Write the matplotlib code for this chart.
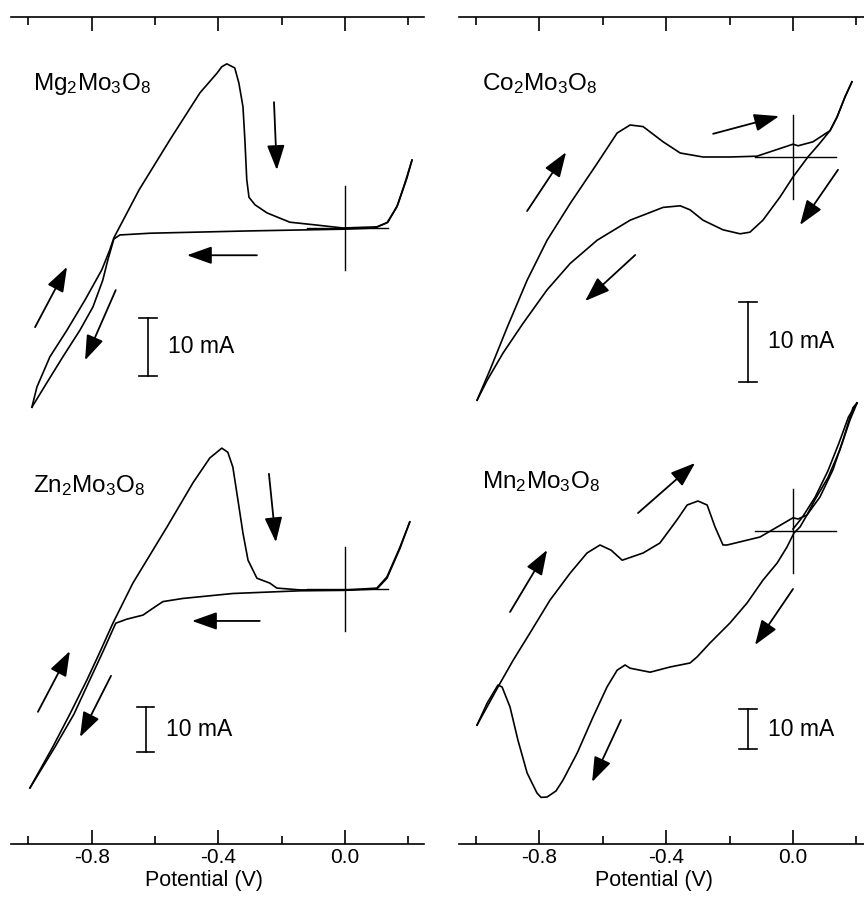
import matplotlib.pyplot as plt

plt.rcParams['font.family'] = ['Liberation Sans', 'DejaVu Sans']
plt.rcParams['mathtext.default'] = 'regular'

# ---- cyclic voltammograms, potential (V) and current (mA) ----
mg_fwd_v = [-0.989, -0.973, -0.932, -0.878, -0.821, -0.768, -0.743, -0.730, -0.650, -0.553,
            -0.458, -0.404, -0.389, -0.373, -0.348, -0.335, -0.322, -0.316, -0.310, -0.303,
            -0.284, -0.246, -0.174, -0.088, -0.006, 0.101, 0.133, 0.164, 0.190, 0.212]
mg_fwd_i = [-30.9, -27.4, -22.2, -17.6, -12.4, -7.2, -3.8, -1.7, 6.6, 15.2,
            23.3, 26.7, 27.8, 28.3, 27.6, 25.0, 20.9, 15.2, 8.3, 5.3,
            4.0, 2.6, 1.0, 0.5, 0.0, 0.2, 0.9, 3.6, 7.8, 11.7]
mg_rev_v = [0.212, 0.196, 0.167, 0.136, 0.095, 0.000, -0.300, -0.616, -0.711, -0.730,
            -0.749, -0.765, -0.796, -0.837, -0.891, -0.942, -0.989]
mg_rev_i = [11.7, 8.6, 4.0, 1.0, 0.0, -0.2, -0.5, -0.9, -1.2, -1.9,
            -5.5, -9.0, -13.6, -17.6, -22.2, -26.7, -30.9]

co_fwd_v = [-0.997, -0.956, -0.902, -0.839, -0.776, -0.703, -0.618, -0.555, -0.514, -0.473,
            -0.410, -0.356, -0.284, -0.199, -0.114, 0.000, 0.016, 0.063, 0.117, 0.139,
            0.164, 0.186]
co_fwd_i = [-30.4, -26.6, -21.3, -15.4, -10.4, -5.8, -0.8, 3.0, 4.0, 3.8,
            1.9, 0.5, 0.0, 0.0, 0.1, 1.6, 1.4, 1.9, 3.3, 5.0,
            7.5, 9.4]
co_rev_v = [0.186, 0.164, 0.139, 0.117, 0.082, 0.047, 0.000, -0.041, -0.095, -0.136,
            -0.167, -0.221, -0.284, -0.325, -0.356, -0.410, -0.514, -0.618, -0.703, -0.776,
            -0.852, -0.915, -0.965, -0.997]
co_rev_i = [9.4, 7.5, 5.0, 3.3, 1.6, 0.0, -2.5, -5.0, -7.9, -9.4,
            -9.6, -9.1, -7.9, -6.6, -6.1, -6.3, -7.9, -10.4, -13.3, -16.6,
            -20.8, -24.5, -27.9, -30.4]

zn_fwd_v = [-0.995, -0.923, -0.869, -0.815, -0.774, -0.733, -0.670, -0.562, -0.480, -0.427,
            -0.389, -0.370, -0.354, -0.338, -0.322, -0.306, -0.278, -0.237, -0.215, -0.142,
            0.006, 0.101, 0.133, 0.174, 0.205]
zn_fwd_i = [-44.2, -35.1, -27.8, -20.2, -14.0, -7.6, 1.3, 13.8, 23.6, 29.1,
            31.3, 30.4, 27.1, 19.8, 12.4, 6.4, 2.4, 1.3, 0.2, -0.2,
            -0.2, 0.2, 2.7, 9.3, 14.9]
zn_rev_v = [0.205, 0.174, 0.133, 0.101, 0.000, -0.142, -0.354, -0.512, -0.575, -0.607,
            -0.638, -0.689, -0.724, -0.765, -0.806, -0.856, -0.916, -0.995]
zn_rev_i = [14.9, 9.0, 2.4, 0.0, -0.3, -0.4, -1.0, -2.1, -2.8, -4.3,
            -5.8, -6.7, -7.6, -14.0, -20.2, -27.8, -35.1, -44.2]

mn_fwd_v = [-0.997, -0.924, -0.883, -0.830, -0.767, -0.703, -0.650, -0.609, -0.574, -0.539,
            -0.473, -0.420, -0.366, -0.334, -0.300, -0.271, -0.246, -0.221, -0.208, -0.104,
            0.000, 0.016, 0.044, 0.085, 0.126, 0.158, 0.189, 0.202]
mn_fwd_i = [-48.5, -38.0, -32.3, -25.5, -17.3, -10.5, -5.5, -3.5, -4.8, -7.3,
            -5.5, -3.0, 2.8, 6.5, 7.5, 6.5, 1.0, -3.5, -3.5, -1.5,
            3.3, 3.0, 4.0, 8.5, 15.3, 22.8, 30.8, 32.0]
mn_rev_v = [0.202, 0.180, 0.148, 0.110, 0.069, 0.044, 0.022, 0.003, -0.019, -0.050,
            -0.095, -0.145, -0.199, -0.262, -0.303, -0.325, -0.388, -0.451, -0.514, -0.530,
            -0.555, -0.587, -0.631, -0.681, -0.726, -0.748, -0.776, -0.795, -0.808, -0.839,
            -0.868, -0.893, -0.918, -0.931, -0.965, -0.997]
mn_rev_i = [32.0, 27.8, 20.3, 13.3, 7.8, 4.0, 1.0, -0.5, -4.0, -8.0,
            -12.3, -18.0, -23.0, -28.0, -31.5, -33.0, -34.0, -35.3, -34.3, -33.5,
            -34.8, -39.0, -46.5, -55.5, -62.3, -65.0, -66.5, -66.6, -65.5, -60.5,
            -52.3, -44.0, -39.0, -38.5, -43.0, -48.5]
# second oxidation branch seen in the bundle above 0 V
mn_fwd2_v = [0.000, 0.030, 0.070, 0.110, 0.145, 0.175, 0.202]
mn_fwd2_i = [0.5, 3.5, 8.5, 15.0, 22.0, 28.5, 32.0]

# sweep-direction arrows: (tail V, tail mA, head V, head mA)
mg_arrows = [(-0.224, 21.7, -0.215, 10.0), (-0.278, -4.7, -0.499, -4.7),
             (-0.979, -17.1, -0.878, -6.7), (-0.724, -10.7, -0.821, -22.8)]
co_arrows = [(-0.839, -6.75, -0.716, 0.6), (-0.252, 2.9, -0.044, 5.1),
             (0.142, -1.6, 0.022, -8.5), (-0.498, -12.25, -0.656, -18.0)]
zn_arrows = [(-0.240, 25.6, -0.218, 10.4), (-0.269, -7.1, -0.483, -7.1),
             (-0.970, -27.3, -0.869, -13.8), (-0.739, -19.3, -0.837, -32.9)]
mn_arrows = [(-0.489, 4.5, -0.309, 17.0), (-0.893, -20.25, -0.776, -4.75),
             (0.000, -14.5, -0.120, -28.5), (-0.543, -47.25, -0.634, -62.75)]

# 10 mA scale bars: (V, lower end in mA)
mg_bar = (-0.622, -25.5)
co_bar = (-0.142, -28.1)
zn_bar = (-0.629, -36.2)
mn_bar = (-0.142, -54.5)

labels = [r'Mg$_2$Mo$_3$O$_8$', r'Co$_2$Mo$_3$O$_8$', r'Zn$_2$Mo$_3$O$_8$', r'Mn$_2$Mo$_3$O$_8$']
label_pos = [(-0.986, 23.8), (-0.981, 8.4), (-0.986, 21.6), (-0.981, 10.75)]

major_ticks = [-0.8, -0.4, 0.0]
major_labels = ['-0.8', '-0.4', '0.0']
minor_ticks = [-1.0, -0.6, -0.2, 0.2]

# ---- layout (pixels of the 864x907 canvas) ----
W, H = 864, 907
TOP, MID, BOT = 17, 430, 844
cols = [(11, 424, (-1.055, 0.250)), (459, 864, (-1.054, 0.224))]
label_x = [0.467, 0.481]

fig = plt.figure(figsize=(W / 100, H / 100), dpi=100)

for (x0, x1, xlim), lx in zip(cols, label_x):
    ax = fig.add_axes([x0 / W, 1 - BOT / H, (x1 - x0) / W, (BOT - TOP) / H])
    ax.set_xlim(*xlim)
    ax.set_ylim(0, 1)
    ax.set_yticks([])
    for s in ('left', 'right'):
        ax.spines[s].set_visible(False)
    for s in ('top', 'bottom'):
        ax.spines[s].set_linewidth(1.2)
    ax.set_xticks(major_ticks)
    ax.set_xticklabels(major_labels, fontsize=15)
    ax.set_xticks(minor_ticks, minor=True)
    ax.tick_params(axis='x', which='both', direction='in', top=True, bottom=True, width=1.2, pad=3)
    ax.tick_params(axis='x', which='major', length=10)
    ax.tick_params(axis='x', which='minor', length=5.5)
    ax.set_xlabel('Potential (V)', fontsize=15.5)
    ax.xaxis.set_label_coords(lx, -0.031)
    ax.patch.set_alpha(0)

panels = [
    (0, TOP, MID, 228, 5.8, [(mg_fwd_v, mg_fwd_i), (mg_rev_v, mg_rev_i)], mg_arrows, mg_bar),
    (1, TOP, MID, 157, 8.0, [(co_fwd_v, co_fwd_i), (co_rev_v, co_rev_i)], co_arrows, co_bar),
    (0, MID, BOT, 589, 4.5, [(zn_fwd_v, zn_fwd_i), (zn_rev_v, zn_rev_i)], zn_arrows, zn_bar),
    (1, MID, BOT, 531, 4.0, [(mn_fwd_v, mn_fwd_i), (mn_rev_v, mn_rev_i), (mn_fwd2_v, mn_fwd2_i)],
     mn_arrows, mn_bar),
]

for k, (ci, ytop, ybot, yc, s, traces, arrows, bar) in enumerate(panels):
    x0, x1, xlim = cols[ci]
    ax = fig.add_axes([x0 / W, 1 - ybot / H, (x1 - x0) / W, (ybot - ytop) / H])
    ax.set_xlim(*xlim)
    ax.set_ylim((yc - ybot) / s, (yc - ytop) / s)
    ax.axis('off')

    for v, i in traces:
        ax.plot(v, i, color='black', lw=1.2, solid_joinstyle='round', clip_on=False)

    # zero-current / zero-potential crosshair
    half = 42 / s
    ax.plot([0, 0], [-half, half], color='black', lw=1.0)
    ax.plot([-0.12, 0.135], [0, 0], color='black', lw=1.0)

    for tv, ti, hv, hi in arrows:
        ax.annotate('', xy=(hv, hi), xytext=(tv, ti),
                    arrowprops=dict(arrowstyle='-|>,head_length=0.9,head_width=0.32',
                                    mutation_scale=17, lw=1.3, color='black',
                                    shrinkA=0, shrinkB=0))

    bv, bi = bar
    cap = 0.027
    ax.plot([bv, bv], [bi, bi + 10], color='black', lw=1.2)
    ax.plot([bv - cap, bv + cap], [bi, bi], color='black', lw=1.2)
    ax.plot([bv - cap, bv + cap], [bi + 10, bi + 10], color='black', lw=1.2)
    ax.text(bv + 0.063, bi + 5, '10 mA', fontsize=16.5, va='center', ha='left')

    lxv, lyi = label_pos[k]
    ax.text(lxv, lyi, labels[k], fontsize=17.5, va='baseline', ha='left')

fig.savefig('out.png', dpi=100)
